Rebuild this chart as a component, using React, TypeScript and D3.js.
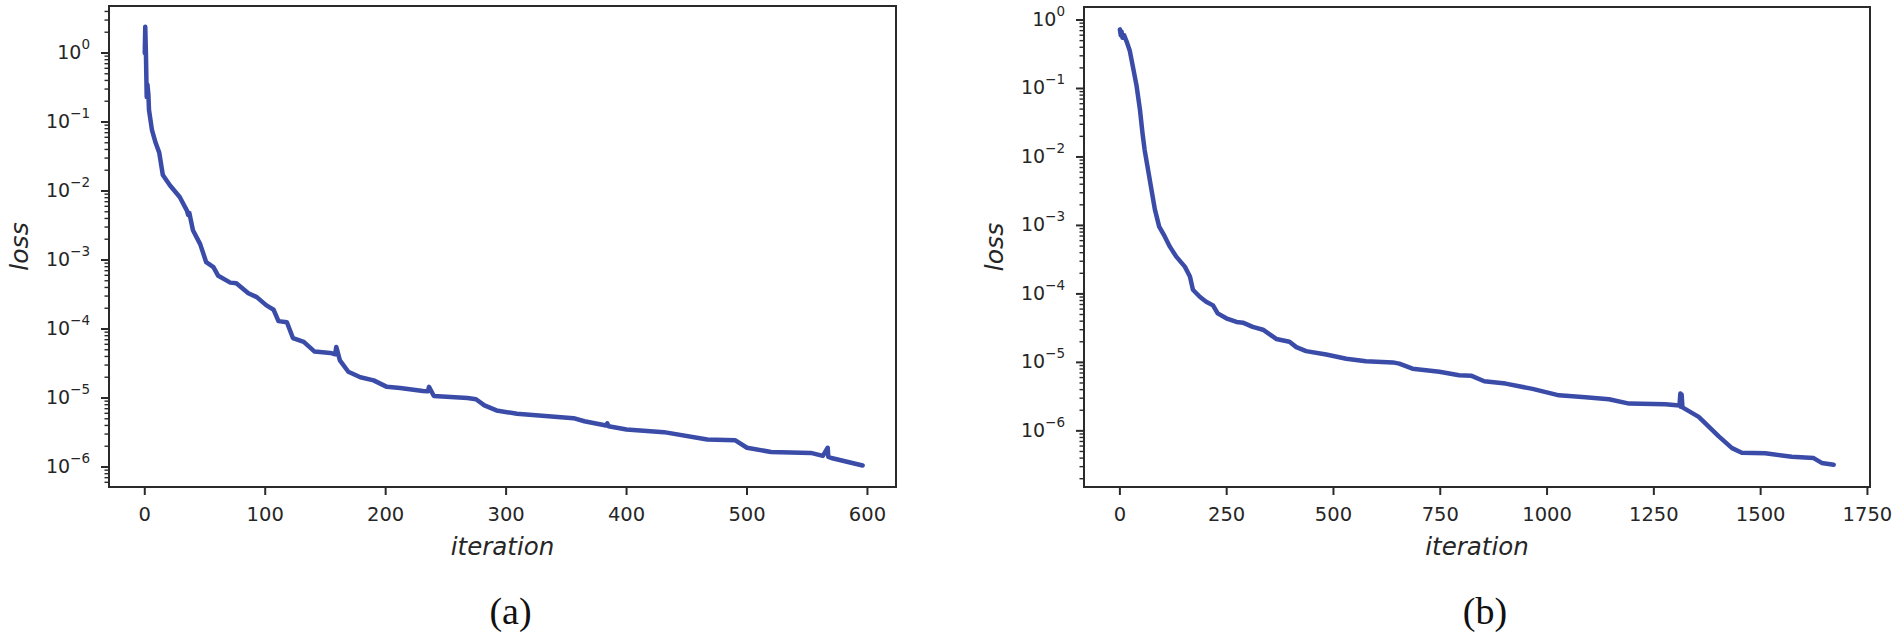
import React from 'react';
import { scaleLinear, scaleLog, line, range } from 'd3';

const width = 1900;
const height = 635;

// panel (a)
const iterA = [0, 0.4, 1, 1.6, 2.2, 3, 3.5, 6, 9, 12, 15, 21, 29, 35, 36, 37, 40, 46, 51, 57, 61, 71, 76, 86, 93, 101, 107, 111, 118, 123, 132, 141, 154, 158, 159, 162, 169, 179, 190, 201, 212, 231, 235, 236, 240, 268, 275, 282, 292, 309, 356, 365, 383, 384, 385, 400, 431, 467, 490, 500, 520, 553, 563, 567, 567.5, 570, 596];
const lossA = [1.0, 2.4, 0.9, 0.23, 0.35, 0.25, 0.15, 0.076, 0.05, 0.036, 0.017, 0.012, 0.0082, 0.0052, 0.0045, 0.0048, 0.0027, 0.0017, 9.3e-4, 7.9e-4, 5.9e-4, 4.7e-4, 4.6e-4, 3.3e-4, 2.9e-4, 2.2e-4, 1.9e-4, 1.3e-4, 1.25e-4, 7.4e-5, 6.5e-5, 4.7e-5, 4.5e-5, 4.3e-5, 5.5e-5, 3.5e-5, 2.4e-5, 2.0e-5, 1.8e-5, 1.45e-5, 1.4e-5, 1.26e-5, 1.25e-5, 1.45e-5, 1.07e-5, 1.0e-5, 9.6e-6, 7.8e-6, 6.6e-6, 5.9e-6, 5.1e-6, 4.6e-6, 4.0e-6, 4.3e-6, 3.9e-6, 3.5e-6, 3.2e-6, 2.5e-6, 2.45e-6, 1.9e-6, 1.65e-6, 1.6e-6, 1.45e-6, 1.9e-6, 1.4e-6, 1.35e-6, 1.05e-6];

// panel (b)
const iterB = [0, 2, 4, 6, 10, 16, 23, 31, 39, 47, 53, 58, 66, 74, 82, 92, 105, 117, 132, 152, 164, 171, 187, 202, 218, 229, 249, 273, 288, 311, 335, 366, 397, 413, 436, 483, 530, 576, 639, 654, 685, 748, 794, 822, 853, 903, 966, 1028, 1090, 1145, 1192, 1277, 1310, 1312, 1313, 1315, 1317, 1355, 1402, 1433, 1456, 1511, 1573, 1624, 1643, 1671];
const lossB = [0.73, 0.6, 0.68, 0.55, 0.6, 0.48, 0.36, 0.2, 0.11, 0.049, 0.022, 0.0126, 0.0065, 0.0033, 0.0017, 9.6e-4, 6.9e-4, 4.9e-4, 3.5e-4, 2.5e-4, 1.8e-4, 1.15e-4, 9.1e-5, 7.7e-5, 6.8e-5, 5.2e-5, 4.4e-5, 3.9e-5, 3.8e-5, 3.3e-5, 3.0e-5, 2.2e-5, 2.0e-5, 1.67e-5, 1.46e-5, 1.3e-5, 1.13e-5, 1.04e-5, 1.0e-5, 9.6e-6, 8.1e-6, 7.3e-6, 6.5e-6, 6.4e-6, 5.3e-6, 4.9e-6, 4.1e-6, 3.3e-6, 3.1e-6, 2.9e-6, 2.5e-6, 2.44e-6, 2.35e-6, 3.5e-6, 2.25e-6, 3.4e-6, 2.2e-6, 1.6e-6, 8.3e-7, 5.6e-7, 4.8e-7, 4.7e-7, 4.2e-7, 4.0e-7, 3.4e-7, 3.2e-7];

const xTicksA = [0, 100, 200, 300, 400, 500, 600];
const xTicksB = [0, 250, 500, 750, 1000, 1250, 1500, 1750];
const yExpA = [0, -1, -2, -3, -4, -5, -6];
const yExpB = [0, -1, -2, -3, -4, -5, -6];

const lineColor = '#3a4ca8';
const axisColor = '#2a2a2a';
const sans = '"DejaVu Sans", sans-serif';

const Panel = ({ iters, losses, box, xDomain, yDomain, xTicks, yExps, caption }) => {
    const { left, right, top, bottom } = box;
    const x = scaleLinear().domain(xDomain).range([left, right]);
    const y = scaleLog().domain(yDomain).range([bottom, top]);
    const path = line().x(d => x(d[0])).y(d => y(d[1]))(iters.map((v, i) => [v, losses[i]]));

    // minor ticks on log axis
    const lo = Math.floor(Math.log10(yDomain[0]));
    const hi = Math.ceil(Math.log10(yDomain[1]));
    const minor = [];
    range(lo, hi + 1).forEach(k => {
        range(2, 10).forEach(m => {
            const v = m * Math.pow(10, k);
            if (v >= yDomain[0] && v <= yDomain[1]) minor.push(v);
        });
    });

    const cx = (left + right) / 2;
    const cy = (top + bottom) / 2;

    return (
        <g>
            <path d={path} fill="none" stroke={lineColor} strokeWidth={4.5} strokeLinejoin="round" strokeLinecap="round" />
            <rect x={left} y={top} width={right - left} height={bottom - top} fill="none" stroke={axisColor} strokeWidth={2} />
            {xTicks.map(t => (
                <g key={t}>
                    <line x1={x(t)} x2={x(t)} y1={bottom} y2={bottom + 8} stroke={axisColor} strokeWidth={2} />
                    <text x={x(t)} y={bottom + 34} textAnchor="middle" fontFamily={sans} fontSize={19.5} fill="#262626">{t}</text>
                </g>
            ))}
            {minor.map((v, i) => (
                <line key={i} x1={left - 4.5} x2={left} y1={y(v)} y2={y(v)} stroke={axisColor} strokeWidth={1.4} />
            ))}
            {yExps.map(k => (
                <g key={k}>
                    <line x1={left - 8} x2={left} y1={y(Math.pow(10, k))} y2={y(Math.pow(10, k))} stroke={axisColor} strokeWidth={2} />
                    <text x={left - 19} y={y(Math.pow(10, k)) + 6} textAnchor="end" fontFamily={sans} fill="#262626">
                        <tspan fontSize={19}>10</tspan>
                        <tspan fontSize={13.5} dy={-10}>{k < 0 ? '\u2212' + (-k) : String(k)}</tspan>
                    </text>
                </g>
            ))}
            <text x={cx} y={bottom + 68} textAnchor="middle" fontFamily={sans} fontStyle="italic" fontSize={24.5} fill="#262626">iteration</text>
            <text transform={`translate(${left - 81}, ${cy}) rotate(-90)`} textAnchor="middle" fontFamily={sans} fontStyle="italic" fontSize={25} fill="#262626">loss</text>
            <text x={cx + 8} y={624} textAnchor="middle" fontFamily='"Liberation Serif", "Times New Roman", serif' fontSize={38} fill="#111">{caption}</text>
        </g>
    );
};

const App = () => {
    return (
        <div style={{ position: 'absolute', left: 0, top: 0 }}>
            <svg width={width} height={height} style={{ display: 'block', background: '#fff' }}>
                <Panel
                    iters={iterA}
                    losses={lossA}
                    box={{ left: 109, right: 896, top: 6, bottom: 487 }}
                    xDomain={[-29.7, 623.7]}
                    yDomain={[Math.pow(10, -6.29), Math.pow(10, 0.681)]}
                    xTicks={xTicksA}
                    yExps={yExpA}
                    caption="(a)"
                />
                <Panel
                    iters={iterB}
                    losses={lossB}
                    box={{ left: 1084, right: 1870, top: 7, bottom: 487 }}
                    xDomain={[-84, 1756]}
                    yDomain={[Math.pow(10, -6.82), Math.pow(10, 0.19)]}
                    xTicks={xTicksB}
                    yExps={yExpB}
                    caption="(b)"
                />
            </svg>
        </div>
    );
};

export default App;
